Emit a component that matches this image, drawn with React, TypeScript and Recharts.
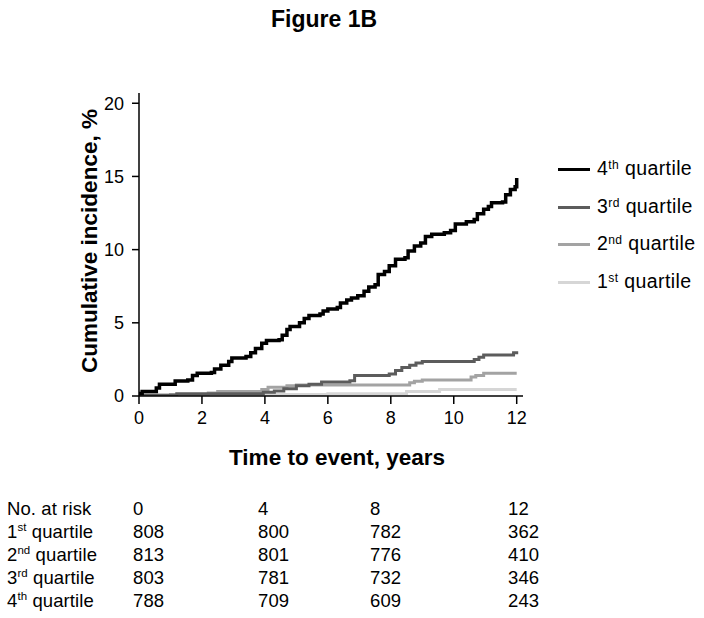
import { LineChart, Line, XAxis, YAxis } from "recharts";

const FONT = '"Liberation Sans", Arial, sans-serif';

const xTicks = [0, 2, 4, 6, 8, 10, 12];
const yTicks = [0, 5, 10, 15, 20];

// cumulative incidence (%) step points
const q4Time = [0, 0.1, 0.55, 0.65, 1.15, 1.55, 1.7, 1.85, 2.3, 2.4, 2.6, 2.85, 2.95, 3.4, 3.55, 3.7, 3.9, 4.05, 4.45, 4.55, 4.7, 4.8, 5.1, 5.25, 5.4, 5.75, 5.85, 6.0, 6.3, 6.4, 6.6, 6.75, 6.95, 7.15, 7.3, 7.5, 7.6, 7.8, 7.95, 8.15, 8.45, 8.55, 8.75, 8.95, 9.1, 9.3, 9.7, 9.9, 10.05, 10.4, 10.65, 10.75, 10.95, 11.1, 11.2, 11.55, 11.65, 11.8, 11.95, 12.0];
const q4Pct = [0.17, 0.3, 0.55, 0.8, 1.02, 1.1, 1.4, 1.55, 1.6, 1.85, 2.1, 2.35, 2.6, 2.7, 2.95, 3.25, 3.6, 3.8, 3.85, 4.15, 4.55, 4.75, 5.0, 5.3, 5.5, 5.6, 5.8, 5.95, 6.05, 6.35, 6.55, 6.7, 6.85, 7.15, 7.45, 7.6, 8.3, 8.5, 8.9, 9.35, 9.45, 9.9, 10.25, 10.45, 10.9, 11.05, 11.15, 11.3, 11.75, 11.9, 12.05, 12.45, 12.75, 12.95, 13.2, 13.25, 13.75, 14.1, 14.3, 14.9];

const q3Time = [0, 1.2, 3.95, 4.3, 4.6, 5.0, 5.4, 5.8, 6.7, 6.85, 7.95, 8.15, 8.35, 8.6, 8.8, 9.0, 10.65, 10.8, 10.95, 11.9, 12.0];
const q3Pct = [0.05, 0.15, 0.25, 0.35, 0.5, 0.7, 0.8, 0.95, 1.05, 1.4, 1.5, 1.75, 1.95, 2.1, 2.25, 2.35, 2.5, 2.65, 2.8, 2.95, 3.05];

const q2Time = [0, 1.0, 2.2, 2.5, 3.9, 4.1, 4.7, 5.0, 8.6, 8.75, 9.0, 10.55, 10.7, 10.95, 12.0];
const q2Pct = [0.05, 0.1, 0.2, 0.3, 0.45, 0.6, 0.7, 0.75, 0.9, 1.0, 1.1, 1.3, 1.4, 1.55, 1.55];

const q1Time = [0, 3.0, 6.0, 8.5, 9.55, 12.0];
const q1Pct = [0, 0.1, 0.15, 0.3, 0.45, 0.45];

// number at risk table
const riskYears = ["0", "4", "8", "12"];
const riskQ1 = [808, 800, 782, 362];
const riskQ2 = [813, 801, 776, 410];
const riskQ3 = [803, 781, 732, 346];
const riskQ4 = [788, 709, 609, 243];

const ordNum = ["1", "2", "3", "4"];
const ordSuffix = ["st", "nd", "rd", "th"];

const toPoints = (t: number[], v: number[]) =>
  t.map((x, i) => ({ t: x, v: v[i] }));

const series = [
  { key: "q1", idx: 0, data: toPoints(q1Time, q1Pct), color: "#d6d6d6", width: 3 },
  { key: "q2", idx: 1, data: toPoints(q2Time, q2Pct), color: "#a3a3a3", width: 3 },
  { key: "q3", idx: 2, data: toPoints(q3Time, q3Pct), color: "#5c5c5c", width: 3 },
  { key: "q4", idx: 3, data: toPoints(q4Time, q4Pct), color: "#000000", width: 3.5 },
];

const riskRows = [riskQ1, riskQ2, riskQ3, riskQ4];
const riskCols = [133, 258, 370, 508];
const riskRowY = [509, 532, 555, 578, 601];

function Ordinal({ i }: { i: number }) {
  return (
    <span>
      {ordNum[i]}
      <sup style={{ fontSize: "0.62em", verticalAlign: "0.55em", lineHeight: 0 }}>
        {ordSuffix[i]}
      </sup>{" "}
      quartile
    </span>
  );
}

function At({ x, y, children, center, style }: any) {
  return (
    <div
      style={{
        position: "absolute",
        left: x,
        top: y,
        transform: center ? "translate(-50%, -50%)" : "translateY(-50%)",
        whiteSpace: "nowrap",
        lineHeight: 1,
        ...style,
      }}
    >
      {children}
    </div>
  );
}

export default function App() {
  const legendY = [282, 244, 207, 169];
  const tableText = { fontSize: 18.5, letterSpacing: 0.1 };
  return (
    <div
      style={{
        position: "absolute",
        left: 0,
        top: 0,
        width: 704,
        height: 618,
        background: "#fff",
        fontFamily: FONT,
        color: "#000",
      }}
    >
      <At x={324} y={19} center style={{ fontSize: 23, fontWeight: "bold" }}>
        Figure 1B
      </At>

      <div style={{ position: "absolute", left: 0, top: 0 }}>
        <LineChart
          width={704}
          height={470}
          margin={{ top: 93, right: 181, bottom: 44, left: 79 }}
        >
          <XAxis
            type="number"
            dataKey="t"
            domain={[0, 12.2]}
            ticks={xTicks}
            allowDataOverflow
            height={30}
            tickSize={8}
            tickMargin={7}
            axisLine={{ stroke: "#000", strokeWidth: 1.5 }}
            tickLine={{ stroke: "#000", strokeWidth: 1.5 }}
            tick={{ fill: "#000", fontSize: 18, fontFamily: FONT }}
          />
          <YAxis
            type="number"
            dataKey="v"
            domain={[0, 20.7]}
            ticks={yTicks}
            allowDataOverflow
            width={60}
            tickSize={7}
            tickMargin={8}
            axisLine={{ stroke: "#000", strokeWidth: 1.5 }}
            tickLine={{ stroke: "#000", strokeWidth: 1.5 }}
            tick={{ fill: "#000", fontSize: 18, fontFamily: FONT }}
          />
          {series.map((s) => (
            <Line
              key={s.key}
              data={s.data}
              dataKey="v"
              type="stepAfter"
              stroke={s.color}
              strokeWidth={s.width}
              dot={false}
              activeDot={false}
              isAnimationActive={false}
            />
          ))}
        </LineChart>
      </div>

      <At
        x={90}
        y={241}
        center
        style={{ fontSize: 22.5, fontWeight: "bold", transform: "translate(-50%, -50%) rotate(-90deg)" }}
      >
        Cumulative incidence, %
      </At>
      <At x={337} y={458} center style={{ fontSize: 22.5, fontWeight: "bold" }}>
        Time to event, years
      </At>

      {series.map((s) => (
        <div key={s.key}>
          <div
            style={{
              position: "absolute",
              left: 558,
              top: legendY[s.idx] - 1.5,
              width: 32,
              height: 3,
              background: s.color,
            }}
          />
          <At x={597} y={legendY[s.idx]} style={{ fontSize: 19.5, letterSpacing: 0.4 }}>
            <Ordinal i={s.idx} />
          </At>
        </div>
      ))}

      <At x={7} y={riskRowY[0]} style={tableText}>
        No. at risk
      </At>
      {riskYears.map((yr, c) => (
        <At key={yr} x={riskCols[c]} y={riskRowY[0]} style={tableText}>
          {yr}
        </At>
      ))}
      {riskRows.map((row, r) => (
        <div key={r}>
          <At x={7} y={riskRowY[r + 1]} style={tableText}>
            <Ordinal i={r} />
          </At>
          {row.map((n, c) => (
            <At key={c} x={riskCols[c]} y={riskRowY[r + 1]} style={tableText}>
              {n}
            </At>
          ))}
        </div>
      ))}
    </div>
  );
}
